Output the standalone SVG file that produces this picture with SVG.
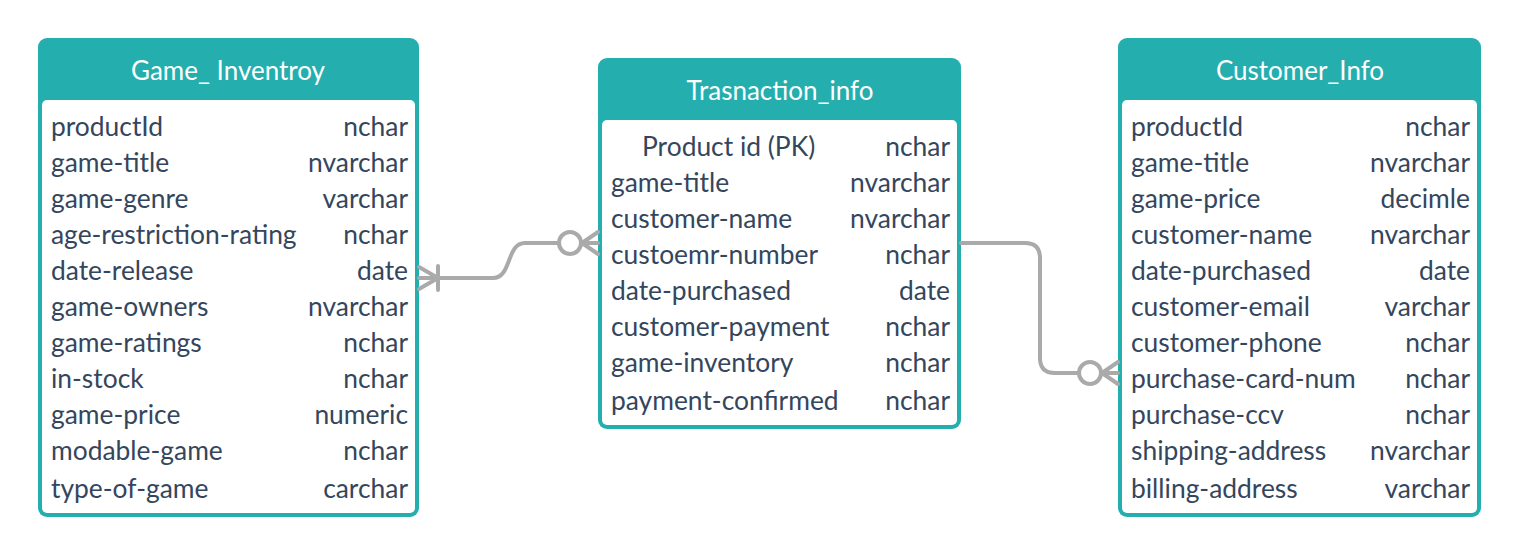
<svg xmlns="http://www.w3.org/2000/svg" width="1520" height="557" viewBox="0 0 1520 557">
<style>
.frame{fill:#24AEAE}
.body{fill:#FFFFFF}
.title{font-family:Lato,"Liberation Sans",sans-serif;font-size:26px;fill:#FFFFFF;text-anchor:middle}
.f{font-family:Lato,"Liberation Sans",sans-serif;font-size:26.4px;fill:#34465D}
.t{font-family:Lato,"Liberation Sans",sans-serif;font-size:26.4px;fill:#34465D;text-anchor:end}
.conn{fill:none;stroke:#AAAAAA;stroke-width:4;stroke-linecap:round;stroke-linejoin:round}
.circ{fill:#FFFFFF;stroke:#AAAAAA;stroke-width:4}
</style>
<rect width="1520" height="557" fill="#FFFFFF"/>
<g id="game_inventroy">
<rect class="frame" x="38" y="38" width="381" height="479" rx="9"/>
<rect class="body" x="42" y="100" width="373" height="413" rx="5"/>
<text class="title" x="228" y="80">Game_ Inventroy</text>
<text class="f" x="51" y="136">productId</text><text class="t" x="408" y="136">nchar</text>
<text class="f" x="51" y="172">game-title</text><text class="t" x="408" y="172">nvarchar</text>
<text class="f" x="51" y="208">game-genre</text><text class="t" x="408" y="208">varchar</text>
<text class="f" x="51" y="244">age-restriction-rating</text><text class="t" x="408" y="244">nchar</text>
<text class="f" x="51" y="280">date-release</text><text class="t" x="408" y="280">date</text>
<text class="f" x="51" y="316">game-owners</text><text class="t" x="408" y="316">nvarchar</text>
<text class="f" x="51" y="352">game-ratings</text><text class="t" x="408" y="352">nchar</text>
<text class="f" x="51" y="388">in-stock</text><text class="t" x="408" y="388">nchar</text>
<text class="f" x="51" y="424">game-price</text><text class="t" x="408" y="424">numeric</text>
<text class="f" x="51" y="460">modable-game</text><text class="t" x="408" y="460">nchar</text>
<text class="f" x="51" y="498">type-of-game</text><text class="t" x="408" y="498">carchar</text>
</g>
<g id="trasnaction_info">
<rect class="frame" x="598" y="58" width="363" height="371" rx="9"/>
<rect class="body" x="602" y="120" width="355" height="305" rx="5"/>
<text class="title" x="780" y="100">Trasnaction_info</text>
<text class="f" x="642" y="156">Product id (PK)</text><text class="t" x="950" y="156">nchar</text>
<text class="f" x="611" y="192">game-title</text><text class="t" x="950" y="192">nvarchar</text>
<text class="f" x="611" y="228">customer-name</text><text class="t" x="950" y="228">nvarchar</text>
<text class="f" x="611" y="264">custoemr-number</text><text class="t" x="950" y="264">nchar</text>
<text class="f" x="611" y="300">date-purchased</text><text class="t" x="950" y="300">date</text>
<text class="f" x="611" y="336">customer-payment</text><text class="t" x="950" y="336">nchar</text>
<text class="f" x="611" y="372">game-inventory</text><text class="t" x="950" y="372">nchar</text>
<text class="f" x="611" y="410">payment-confirmed</text><text class="t" x="950" y="410">nchar</text>
</g>
<g id="customer_info">
<rect class="frame" x="1118" y="38" width="363" height="479" rx="9"/>
<rect class="body" x="1122" y="100" width="355" height="413" rx="5"/>
<text class="title" x="1300" y="80">Customer_Info</text>
<text class="f" x="1131" y="136">productId</text><text class="t" x="1470" y="136">nchar</text>
<text class="f" x="1131" y="172">game-title</text><text class="t" x="1470" y="172">nvarchar</text>
<text class="f" x="1131" y="208">game-price</text><text class="t" x="1470" y="208">decimle</text>
<text class="f" x="1131" y="244">customer-name</text><text class="t" x="1470" y="244">nvarchar</text>
<text class="f" x="1131" y="280">date-purchased</text><text class="t" x="1470" y="280">date</text>
<text class="f" x="1131" y="316">customer-email</text><text class="t" x="1470" y="316">varchar</text>
<text class="f" x="1131" y="352">customer-phone</text><text class="t" x="1470" y="352">nchar</text>
<text class="f" x="1131" y="388">purchase-card-num</text><text class="t" x="1470" y="388">nchar</text>
<text class="f" x="1131" y="424">purchase-ccv</text><text class="t" x="1470" y="424">nchar</text>
<text class="f" x="1131" y="460">shipping-address</text><text class="t" x="1470" y="460">nvarchar</text>
<text class="f" x="1131" y="498">billing-address</text><text class="t" x="1470" y="498">varchar</text>
</g>
<g id="connectors">
<path class="conn" d="M419 278 L493 278 C512 278 506 243 525 243 L558 243"/>
<path class="conn" d="M419 267 L438 278 L419 289 M438 266 L438 290"/>
<path class="conn" d="M582 243 L598 243 M582 243 L598 232 M582 243 L598 254"/>
<circle class="circ" cx="570" cy="243" r="11"/>
<path class="conn" d="M961 243 L1025 243 Q1040 243 1040 258 L1040 358 Q1040 373 1055 373 L1078 373"/>
<path class="conn" d="M1102 373 L1118 373 M1102 373 L1118 362 M1102 373 L1118 384"/>
<circle class="circ" cx="1090" cy="373" r="11"/>
</g>
</svg>
